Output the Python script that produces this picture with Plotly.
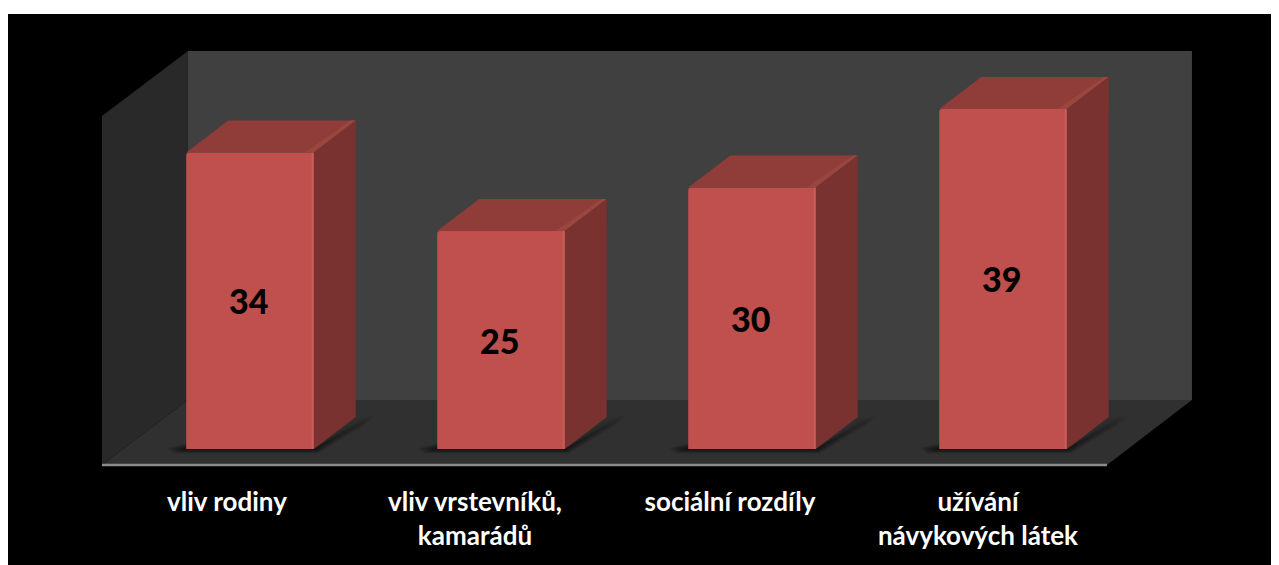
import plotly.graph_objects as go

CATEGORIES = ["vliv rodiny", "vliv vrstevníků,<br>kamarádů", "sociální rozdíly", "užívání<br>návykových látek"]
VALUES = [34, 25, 30, 39]

# axis calibration: one category step = 251 px, one value unit = 8.72 px
PXX = 251.0
PXY = 8.72
W, H = 1271, 551
X0 = -0.964
X1 = X0 + W / PXX
Y0 = -116 / PXY
Y1 = Y0 + H / PXY
BAR_W = 0.508
DX, DY = 42 / PXX, 32 / PXY          # bar depth
LABEL_SHIFT = [-23, -26, -22, -25]   # px, tick label offsets from the bar centre

FRONT = (102 - 250) / PXX            # wall / floor extents
BACK = (188 - 250) / PXX
RIGHT_F = (1107 - 250) / PXX
RIGHT_B = (1192 - 250) / PXX
FLOOR_F = (449 - 465) / PXY
FLOOR_B = (449 - 400) / PXY
TOP_B = (449 - 51) / PXY
TOP_F = (449 - 116) / PXY

fig = go.Figure()


def back_poly(xs, ys, color, opacity=1.0):
    path = "M " + " L ".join(f"{x:.5f},{y:.5f}" for x, y in zip(xs, ys)) + " Z"
    fig.add_shape(type="path", path=path, fillcolor=color, opacity=opacity,
                  line=dict(width=0), layer="below")


def poly(xs, ys, color):
    fig.add_trace(go.Scatter(x=xs + xs[:1], y=ys + ys[:1], mode="lines", fill="toself",
                             fillcolor=color, line=dict(width=0),
                             hoverinfo="skip", showlegend=False))


back_poly([BACK, RIGHT_B, RIGHT_B, BACK], [FLOOR_B, FLOOR_B, TOP_B, TOP_B], "#404040")
back_poly([FRONT, BACK, BACK, FRONT], [FLOOR_F, FLOOR_B, TOP_B, TOP_F], "#292929")
back_poly([FRONT, RIGHT_F, RIGHT_B, BACK], [FLOOR_F, FLOOR_F, FLOOR_B, FLOOR_B], "#303030")

for i, v in enumerate(VALUES):
    l, r = i - BAR_W / 2, i + BAR_W / 2
    # soft floor shadow, a few stacked translucent outlines
    for k in range(8):
        g = (8 - k) / PXX
        h = (8 - k) / PXY
        back_poly([l - 2.4 * g, l, r, r + DX + 2.4 * g, r + DX + 1.0 * g, r + 0.6 * g, l - 1.6 * g],
                  [0.1 * h, 0.7 * h, 0, DY + 0.2 * h, DY - 1.1 * h, -0.55 * h, -0.55 * h],
                  "#000000", 0.085)
    poly([l, l + DX, r + DX, r], [v, v + DY, v + DY, v], "#903c38")
    poly([r - 9 / PXX, r, r + DX, r + DX - 5 / PXX], [v, v, v + DY, v + DY], "#994540")
    poly([r, r + DX, r + DX, r], [0, DY, v + DY, v], "#7a3230")
    poly([r - 2 / PXX, r, r, r - 2 / PXX], [0, 0, v, v], "#c95e58")

fig.add_trace(go.Bar(x=list(range(len(VALUES))), y=VALUES, width=BAR_W,
                     marker=dict(color="#c0504d", line=dict(width=0), cornerradius=3),
                     hoverinfo="skip", showlegend=False))

for i, v in enumerate(VALUES):
    fig.add_annotation(x=i, y=v / 2, text=str(v), showarrow=False, xshift=-1.5,
                       font=dict(family="Lato", size=34, color="black", weight=900))

fig.add_shape(type="line", x0=FRONT, x1=RIGHT_F, y0=FLOOR_F, y1=FLOOR_F,
              line=dict(color="#8c8c8c", width=2.5))

fig.update_layout(
    width=W, height=H + 6,
    margin=dict(l=0, r=0, t=6, b=0),
    paper_bgcolor="white", plot_bgcolor="black", showlegend=False,
    xaxis=dict(range=[X0, X1], anchor="free", position=(565 - 465) / H, showgrid=False,
               zeroline=False, showline=False, ticks="outside", ticklen=14,
               tickcolor="rgba(0,0,0,0)",
               tickvals=[i + s / PXX for i, s in enumerate(LABEL_SHIFT)], ticktext=CATEGORIES,
               tickfont=dict(family="Lato", size=26, color="white", weight="bold")),
    yaxis=dict(range=[Y0, Y1], visible=False, showgrid=False, zeroline=False),
)
fig.write_html("out.html", post_script="document.documentElement.style.overflow='hidden';",
               config={"displayModeBar": False})
